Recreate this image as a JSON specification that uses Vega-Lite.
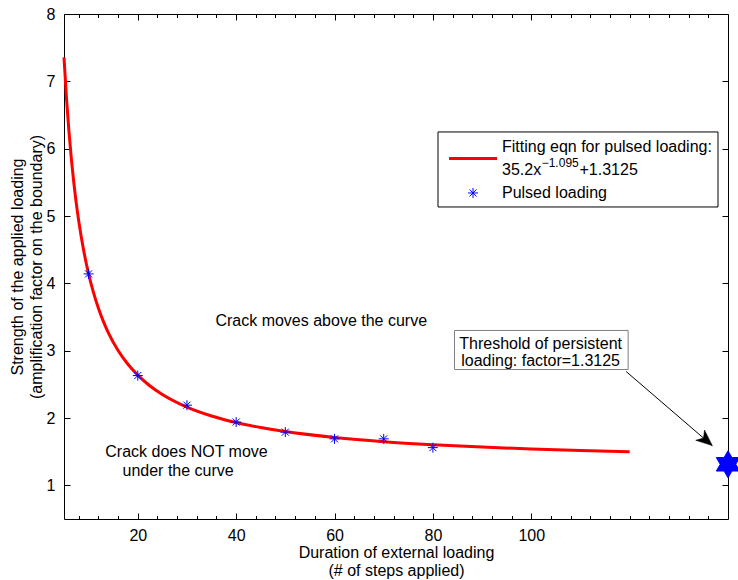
{
  "$schema": "https://vega.github.io/schema/vega-lite/v6.json",
  "width": 664,
  "height": 505,
  "autosize": {"type": "none"},
  "padding": {"left": 64, "top": 14, "right": 10, "bottom": 61},
  "background": "white",
  "config": {
    "font": "Liberation Sans",
    "view": {"stroke": "black", "strokeWidth": 1},
    "axis": {
      "domain": false,
      "grid": false,
      "tickColor": "black",
      "tickWidth": 1,
      "labelColor": "black",
      "labelFontSize": 16,
      "labelFont": "Liberation Sans",
      "titleColor": "black",
      "titleFontSize": 16,
      "titleFont": "Liberation Sans",
      "titleFontWeight": "normal"
    }
  },
  "datasets": {
    "curve": [
      {"x": 5, "y": 7.355}, {"x": 5.5, "y": 6.756}, {"x": 6, "y": 6.261}, {"x": 6.5, "y": 5.846},
      {"x": 7, "y": 5.492}, {"x": 7.5, "y": 5.188}, {"x": 8, "y": 4.924}, {"x": 9, "y": 4.487},
      {"x": 10, "y": 4.141}, {"x": 11, "y": 3.861}, {"x": 12, "y": 3.629}, {"x": 13, "y": 3.435},
      {"x": 14, "y": 3.269}, {"x": 16, "y": 3.003}, {"x": 18, "y": 2.798}, {"x": 20, "y": 2.637},
      {"x": 22.5, "y": 2.476}, {"x": 25, "y": 2.35}, {"x": 30, "y": 2.162}, {"x": 35, "y": 2.03},
      {"x": 40, "y": 1.932}, {"x": 45, "y": 1.858}, {"x": 50, "y": 1.798}, {"x": 60, "y": 1.71},
      {"x": 70, "y": 1.648}, {"x": 80, "y": 1.603}, {"x": 90, "y": 1.568}, {"x": 100, "y": 1.54},
      {"x": 110, "y": 1.517}, {"x": 120, "y": 1.499}
    ],
    "pulsed": [
      {"x": 10, "y": 4.14}, {"x": 20, "y": 2.63}, {"x": 30, "y": 2.19}, {"x": 40, "y": 1.94},
      {"x": 50, "y": 1.79}, {"x": 60, "y": 1.69}, {"x": 70, "y": 1.69}, {"x": 80, "y": 1.56}
    ],
    "threshold": [{"x": 140, "y": 1.3125}],
    "notes": [
      {"x": 57.3, "y": 3.44, "text": "Crack moves above the curve"},
      {"x": 29.9, "y": 1.5, "text": "Crack does NOT move"},
      {"x": 28.2, "y": 1.21, "text": "under the curve"},
      {"x": 101.9, "y": 3.1, "text": "Threshold of persistent"},
      {"x": 101.9, "y": 2.85, "text": "loading: factor=1.3125"}
    ],
    "notebox": [{"x": 84.4, "x2": 119.7, "y": 3.3, "y2": 2.72}],
    "arrow": [{"x": 119.3, "y": 2.69, "x2": 136.8, "y2": 1.59}],
    "legendbox": [{"x": 81.04, "x2": 137.97, "y": 6.248, "y2": 5.134}],
    "legendline": [{"x": 83.28, "x2": 93.04, "y": 5.854}],
    "legendmarker": [{"x": 88.16, "y": 5.342}],
    "legendtext": [
      {"x": 94.05, "y": 6.025, "text": "Fitting eqn for pulsed loading:"},
      {"x": 94.05, "y": 5.683, "text": "35.2x"},
      {"x": 109.81, "y": 5.683, "text": "+1.3125"},
      {"x": 94.05, "y": 5.342, "text": "Pulsed loading"}
    ],
    "legendsup": [{"x": 102.12, "y": 5.787, "text": "−1.095"}]
  },
  "layer": [
    {
      "data": {"name": "notebox"},
      "mark": {"type": "rect", "fill": "white", "stroke": "#7f7f7f", "strokeWidth": 1},
      "encoding": {
        "x": {"field": "x", "type": "quantitative", "axis": null},
        "x2": {"field": "x2"},
        "y": {"field": "y", "type": "quantitative", "axis": null},
        "y2": {"field": "y2"}
      }
    },
    {
      "data": {"name": "notes"},
      "mark": {"type": "text", "fontSize": 16, "align": "center", "baseline": "middle", "color": "black"},
      "encoding": {
        "x": {"field": "x", "type": "quantitative",
          "axis": {"orient": "top", "values": [8, 12, 16, 24, 28, 32, 36, 44, 48, 52, 56, 64, 68, 72, 76, 84, 88, 92, 96, 104, 108, 112, 116, 120, 124, 128, 132, 136], "tickSize": -3.5, "labels": false, "title": null}},
        "y": {"field": "y", "type": "quantitative", "axis": null},
        "text": {"field": "text"}
      }
    },
    {
      "data": {"name": "curve"},
      "mark": {"type": "line", "strokeWidth": 3, "color": "#ff0000", "interpolate": "monotone"},
      "encoding": {
        "x": {"field": "x", "type": "quantitative",
          "scale": {"domain": [5, 140], "nice": false, "zero": false},
          "axis": {"orient": "bottom", "values": [20, 40, 60, 80, 100], "tickSize": -6, "labelPadding": 14,
            "title": ["Duration of external loading", "(# of steps applied)"],
            "titleX": 332, "titleY": 33.7, "titleBaseline": "middle", "titleAlign": "center", "titleLineHeight": 17.5}},
        "y": {"field": "y", "type": "quantitative",
          "scale": {"domain": [0.5, 8], "nice": false, "zero": false},
          "axis": {"orient": "left", "values": [1, 2, 3, 4, 5, 6, 7, 8], "tickSize": -6, "labelPadding": 15,
            "title": ["Strength of the applied loading", "(amplification factor on the boundary)"],
            "titleX": -46.5, "titleY": 252.5, "titleAngle": -90, "titleBaseline": "middle", "titleAlign": "center", "titleLineHeight": 18.5}}
      }
    },
    {
      "data": {"name": "pulsed"},
      "mark": {"type": "point", "shape": "M-1,0L1,0M0,-1L0,1M-0.707,-0.707L0.707,0.707M-0.707,0.707L0.707,-0.707", "size": 100, "strokeWidth": 1, "filled": false, "color": "#0000ff", "opacity": 1},
      "encoding": {
        "x": {"field": "x", "type": "quantitative",
          "axis": {"orient": "bottom", "values": [8, 12, 16, 24, 28, 32, 36, 44, 48, 52, 56, 64, 68, 72, 76, 84, 88, 92, 96, 104, 108, 112, 116, 120, 124, 128, 132, 136], "tickSize": -3.5, "labels": false, "title": null}},
        "y": {"field": "y", "type": "quantitative",
          "axis": {"orient": "right", "values": [1, 2, 3, 4, 5, 6, 7, 8], "tickSize": -6, "labels": false, "title": null}}
      }
    },
    {
      "data": {"name": "threshold"},
      "mark": {"type": "point", "shape": "M0,-1L0.2887,-0.5L0.866,-0.5L0.5774,0L0.866,0.5L0.2887,0.5L0,1L-0.2887,0.5L-0.866,0.5L-0.5774,0L-0.866,-0.5L-0.2887,-0.5Z", "size": 729, "filled": true, "fill": "#0000ff", "stroke": "#0000ff", "strokeWidth": 1, "opacity": 1},
      "encoding": {
        "x": {"field": "x", "type": "quantitative",
          "axis": {"orient": "top", "values": [20, 40, 60, 80, 100], "tickSize": -6, "labels": false, "title": null}},
        "y": {"field": "y", "type": "quantitative", "axis": null}
      }
    },
    {
      "data": {"name": "arrow"},
      "mark": {"type": "rule", "color": "black", "strokeWidth": 1},
      "encoding": {
        "x": {"field": "x", "type": "quantitative", "axis": null},
        "x2": {"field": "x2"},
        "y": {"field": "y", "type": "quantitative", "axis": null},
        "y2": {"field": "y2"}
      }
    },
    {
      "data": {"name": "arrow"},
      "mark": {"type": "point", "shape": "M0,0L-1,-0.42L-0.72,0L-1,0.42Z", "size": 1024, "angle": 40.7, "filled": true, "fill": "black", "stroke": "black", "strokeWidth": 0.5, "opacity": 1},
      "encoding": {
        "x": {"field": "x2", "type": "quantitative", "axis": null},
        "y": {"field": "y2", "type": "quantitative", "axis": null}
      }
    },
    {
      "data": {"name": "legendbox"},
      "mark": {"type": "rect", "fill": "white", "stroke": "black", "strokeWidth": 1},
      "encoding": {
        "x": {"field": "x", "type": "quantitative", "axis": null},
        "x2": {"field": "x2"},
        "y": {"field": "y", "type": "quantitative", "axis": null},
        "y2": {"field": "y2"}
      }
    },
    {
      "data": {"name": "legendline"},
      "mark": {"type": "rule", "color": "#ff0000", "strokeWidth": 3},
      "encoding": {
        "x": {"field": "x", "type": "quantitative", "axis": null},
        "x2": {"field": "x2"},
        "y": {"field": "y", "type": "quantitative", "axis": null}
      }
    },
    {
      "data": {"name": "legendmarker"},
      "mark": {"type": "point", "shape": "M-1,0L1,0M0,-1L0,1M-0.707,-0.707L0.707,0.707M-0.707,0.707L0.707,-0.707", "size": 100, "strokeWidth": 1, "filled": false, "color": "#0000ff", "opacity": 1},
      "encoding": {
        "x": {"field": "x", "type": "quantitative", "axis": null},
        "y": {"field": "y", "type": "quantitative", "axis": null}
      }
    },
    {
      "data": {"name": "legendtext"},
      "mark": {"type": "text", "fontSize": 16, "align": "left", "baseline": "middle", "color": "black"},
      "encoding": {
        "x": {"field": "x", "type": "quantitative", "axis": null},
        "y": {"field": "y", "type": "quantitative", "axis": null},
        "text": {"field": "text"}
      }
    },
    {
      "data": {"name": "legendsup"},
      "mark": {"type": "text", "fontSize": 12, "align": "left", "baseline": "middle", "color": "black"},
      "encoding": {
        "x": {"field": "x", "type": "quantitative", "axis": null},
        "y": {"field": "y", "type": "quantitative", "axis": null},
        "text": {"field": "text"}
      }
    }
  ],
  "resolve": {"axis": {"x": "independent", "y": "independent"}}
}
